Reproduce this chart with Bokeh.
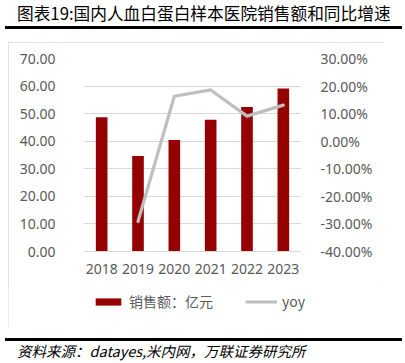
from bokeh.plotting import figure
from bokeh.models import (FactorRange, Range1d, LinearAxis, FixedTicker, PrintfTickFormatter,
                          Legend, LegendItem, Div, Spacer)
from bokeh.layouts import column, row
from bokeh.embed import file_html
from bokeh.resources import INLINE

years = ["2018", "2019", "2020", "2021", "2022", "2023"]
sales = [48.7, 34.6, 40.4, 47.8, 52.4, 59.1]
yoy_years = ["2019", "2020", "2021", "2022", "2023"]
yoy = [-29.1, 16.3, 18.6, 9.1, 13.1]
left_ticks = [0, 10, 20, 30, 40, 50, 60, 70]
right_ticks = [-40, -30, -20, -10, 0, 10, 20, 30]

title_text = "图表19:国内人血白蛋白样本医院销售额和同比增速"
source_text = "资料来源：datayes,米内网，万联证券研究所"
bar_label = "销售额：亿元"
line_label = "yoy"

BAR_COLOR = "#950000"
LINE_COLOR = "#BFBFBF"
W = 397
BW, BH = 376, 285  # framed box
PH = 245           # chart part of the box
LH = BH - PH       # legend part of the box

p = figure(x_range=FactorRange(*years), y_range=Range1d(0, 70),
           width=BW, height=PH, output_backend="svg", toolbar_location=None,
           min_border_left=75, min_border_right=83, min_border_top=16,
           min_border_bottom=PH - 209)
p.extra_y_ranges = {"yoy": Range1d(-40, 30)}
p.outline_line_color = None

bars = p.vbar(x=years, top=sales, width=0.32, fill_color=BAR_COLOR, line_color=None)
ln = p.line(x=yoy_years, y=yoy, y_range_name="yoy", line_color=LINE_COLOR, line_width=3.2,
            line_join="round", line_cap="round")

tick_font = "Noto Sans"
p.yaxis.ticker = FixedTicker(ticks=left_ticks)
p.yaxis.formatter = PrintfTickFormatter(format="%.2f")
p.yaxis.axis_line_color = None
p.yaxis.major_tick_line_color = None
p.yaxis.minor_tick_line_color = None
p.yaxis.major_label_standoff = 22
p.yaxis.major_label_text_font_size = "14px"
p.yaxis.major_label_text_color = "#595959"
p.yaxis.major_label_text_font = tick_font

ra = LinearAxis(y_range_name="yoy", ticker=FixedTicker(ticks=right_ticks),
                formatter=PrintfTickFormatter(format="%.2f%%"))
ra.axis_line_color = None
ra.major_tick_line_color = None
ra.minor_tick_line_color = None
ra.major_label_standoff = 13
ra.major_label_text_font_size = "14px"
ra.major_label_text_color = "#595959"
ra.major_label_text_font = tick_font
p.add_layout(ra, "right")

p.xaxis.axis_line_color = "#D9D9D9"
p.xaxis.major_tick_line_color = None
p.xaxis.minor_tick_line_color = None
p.xaxis.major_label_standoff = 6
p.xaxis.major_label_text_font_size = "14px"
p.xaxis.major_label_text_color = "#595959"
p.xaxis.major_label_text_font = tick_font
p.xgrid.grid_line_color = None
p.ygrid.grid_line_color = "#D9D9D9"

# legend strip (part of the same framed box); its series sit outside the visible range
lf = figure(width=BW, height=LH, x_range=FactorRange(*years), y_range=Range1d(1000, 1001),
            output_backend="svg", toolbar_location=None, min_border=0,
            x_axis_location=None, y_axis_location=None)
lf.grid.grid_line_color = None
lf.outline_line_color = None
if "frame_align" in lf.properties():
    lf.frame_align = False
    legend_x, legend_spacing = 84, 32
else:
    legend_x, legend_spacing = 5, 28
lbar = lf.vbar(x=years, top=sales, width=0.32, fill_color=BAR_COLOR, line_color=None)
lline = lf.line(x=yoy_years, y=yoy, line_color=LINE_COLOR, line_width=3.2)
legend = Legend(items=[LegendItem(label=bar_label, renderers=[lbar]),
                       LegendItem(label=line_label, renderers=[lline])],
                orientation="horizontal", location=(legend_x, 16),
                padding=0, margin=0, spacing=legend_spacing, label_standoff=5,
                glyph_width=32, glyph_height=9, label_height=20,
                border_line_color=None, background_fill_alpha=0,
                label_text_font="Noto Sans CJK SC", label_text_font_size="14px",
                label_text_color="#595959")
lf.add_layout(legend, "center")

box = column(p, lf, spacing=0,
             styles={"outline": "1px solid #D9D9D9", "outline-offset": "-1px"})

title_div = Div(width=W, height=32, text=(
    '<div style="position:relative;width:%dpx;height:24px;box-sizing:border-box;'
    'border-bottom:3px solid black;">'
    '<div style="position:absolute;left:12px;top:-4px;font-family:\'Noto Sans CJK SC\';'
    'font-size:16.7px;line-height:24px;color:black;white-space:nowrap;">%s</div></div>'
    % (W, title_text)))
source_div = Div(width=W, height=30, text=(
    '<div style="position:relative;width:%dpx;height:30px;">'
    '<div style="position:absolute;left:0;top:6px;width:%dpx;height:3px;background:black;"></div>'
    '<div style="position:absolute;left:12px;top:9px;font-family:\'Noto Sans CJK SC\';'
    'font-size:14.5px;font-style:italic;line-height:20px;color:black;white-space:nowrap;">%s</div>'
    '</div>' % (W, W, source_text)))

layout = column(title_div, row(Spacer(width=8, height=BH), box, spacing=0), source_div, spacing=0)

open("out.html", "w").write(file_html(layout, INLINE))
